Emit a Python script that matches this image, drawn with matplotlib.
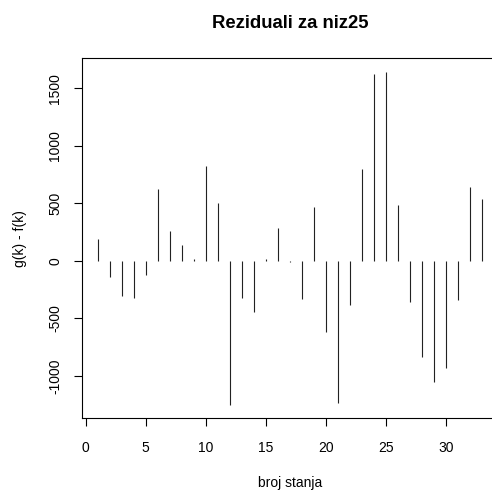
import matplotlib
matplotlib.use("Agg")
import matplotlib.pyplot as plt
import numpy as np

k = list(range(1, 34))
residuals = [190, -144, -309, -326, -121, 623, 260, 135, 14, 822,
             499, -1249, -320, -447, 17, 283, -8, -329, 467, -620,
             -1231, -381, 796, 1626, 1644, 484, -355, -833, -1050, -928,
             -337, 640, 539]
xticks = [0, 5, 10, 15, 20, 25, 30]
yticks = [-1000, -500, 0, 500, 1000, 1500]

plt.rcParams['font.family'] = ['Liberation Sans', 'DejaVu Sans']

fig = plt.figure(figsize=(4.92, 4.93), dpi=100)
ax = fig.add_axes([82.3/492, 1-418/493, (497.5-82.3)/492, (418-58.3)/493])

ax.vlines(k, 0, residuals, colors='#222222', linewidth=0.8)

kmin, kmax = min(k), max(k)
ymin, ymax = min(residuals), max(residuals)
dx = (kmax - kmin) * 0.04
dy = (ymax - ymin) * 0.04
ax.set_xlim(kmin - dx, kmax + dx)
ax.set_ylim(ymin - dy, ymax + dy)

ax.set_xticks(xticks)
ax.set_yticks(yticks)
ax.set_yticklabels([str(v) for v in yticks], rotation=90, va='center')
ax.tick_params(axis='both', direction='out', length=5.5, width=0.8,
               labelsize=10, colors='black')
ax.tick_params(axis='x', pad=11)
ax.tick_params(axis='y', pad=9)
for s in ax.spines.values():
    s.set_linewidth(0.8)
    s.set_color('black')

ax.set_title("Reziduali za niz25", fontsize=13.3, fontweight='bold', pad=22)
ax.set_xlabel("broj stanja", fontsize=10, labelpad=15)
ax.set_ylabel("g(k) - f(k)", fontsize=10, labelpad=15)

fig.savefig("out.png", dpi=100)
